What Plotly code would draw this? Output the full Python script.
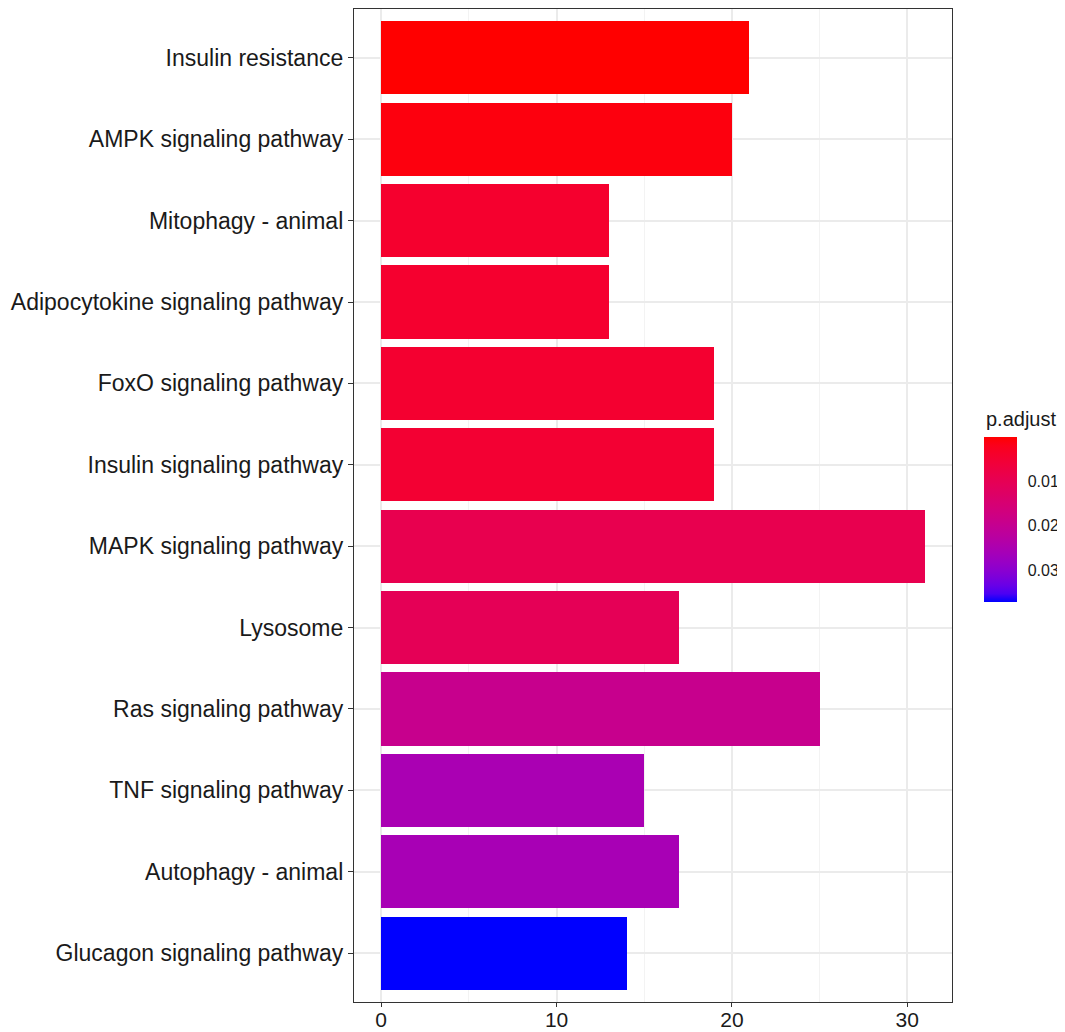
import plotly.graph_objects as go

# KEGG enrichment result (top to bottom)
pathways = [
    "Insulin resistance",
    "AMPK signaling pathway",
    "Mitophagy - animal",
    "Adipocytokine signaling pathway",
    "FoxO signaling pathway",
    "Insulin signaling pathway",
    "MAPK signaling pathway",
    "Lysosome",
    "Ras signaling pathway",
    "TNF signaling pathway",
    "Autophagy - animal",
    "Glucagon signaling pathway",
]
gene_count = [21, 20, 13, 13, 19, 19, 31, 17, 25, 15, 17, 14]
p_adjust = [0.0002, 0.0012, 0.0045, 0.0046, 0.0048, 0.0052,
            0.0093, 0.0105, 0.0195, 0.0255, 0.0258, 0.0373]
cbar_ticks = [0.01, 0.02, 0.03]


# ggplot interpolates gradients in Lab space, so do the same here
def _to_lab(rgb):
    lin = []
    for c in rgb:
        c = c / 255
        lin.append(c / 12.92 if c <= 0.04045 else ((c + 0.055) / 1.055) ** 2.4)
    r, g, b = lin
    x = (0.4124 * r + 0.3576 * g + 0.1805 * b) / 0.95047
    y = (0.2126 * r + 0.7152 * g + 0.0722 * b) / 1.0
    z = (0.0193 * r + 0.1192 * g + 0.9505 * b) / 1.08883
    f = lambda t: t ** (1 / 3) if t > 0.008856 else 7.787 * t + 16 / 116
    fx, fy, fz = f(x), f(y), f(z)
    return (116 * fy - 16, 500 * (fx - fy), 200 * (fy - fz))


def _from_lab(lab):
    L, a, b = lab
    fy = (L + 16) / 116
    fx = fy + a / 500
    fz = fy - b / 200
    g = lambda t: t ** 3 if t ** 3 > 0.008856 else (t - 16 / 116) / 7.787
    x, y, z = g(fx) * 0.95047, g(fy), g(fz) * 1.08883
    r = 3.2406 * x - 1.5372 * y - 0.4986 * z
    gg = -0.9689 * x + 1.8758 * y + 0.0415 * z
    bb = 0.0557 * x - 0.2040 * y + 1.0570 * z
    out = []
    for c in (r, gg, bb):
        c = 12.92 * c if c <= 0.0031308 else 1.055 * c ** (1 / 2.4) - 0.055
        out.append(int(round(min(max(c, 0), 1) * 255)))
    return "rgb(%d,%d,%d)" % tuple(out)


low, high = _to_lab((0, 0, 255)), _to_lab((255, 0, 0))
n = 20
colorscale = []
for i in range(n + 1):
    t = i / n
    colorscale.append([t, _from_lab(tuple(low[k] + (high[k] - low[k]) * t for k in range(3)))])

font = "Liberation Sans, Arial, Helvetica, sans-serif"

W, H = 1057, 1024
ML, MR, MT, MB = 346, 113, 1, 30
plot_w, plot_h = W - ML - MR, H - MT - MB
cb_x, cb_y, cb_len, cb_thick = 1.0535, 0.4854, 165, 33
cmin, cmax = -max(p_adjust), -min(p_adjust)

# negative p so that small values sit at the top of the colorbar (reverse guide)
fig = go.Figure(go.Bar(
    x=gene_count,
    y=pathways,
    orientation="h",
    width=0.9,
    marker=dict(
        color=[-p for p in p_adjust],
        colorscale=colorscale,
        cmin=cmin,
        cmax=cmax,
        line=dict(width=0),
        showscale=True,
        colorbar=dict(
            x=cb_x, xanchor="left",
            y=cb_y, yanchor="middle",
            lenmode="pixels", len=cb_len,
            thickness=cb_thick,
            xpad=0, ypad=0,
            outlinewidth=0,
            tickvals=[-t for t in cbar_ticks],
            ticktext=["%.2f" % t for t in cbar_ticks],
            ticks="outside", ticklen=8, tickcolor="rgba(0,0,0,0)",
            tickfont=dict(family=font, size=16, color="#1a1a1a"),
        ),
    ),
))

# white tick marks on both edges of the colour bar, like ggplot's guide
cb_bot = cb_y - cb_len / 2 / plot_h
cb_top = cb_y + cb_len / 2 / plot_h
x_left = cb_x
x_right = cb_x + cb_thick / plot_w
tk = 6 / plot_w
for t in cbar_ticks:
    yy = cb_bot + (-t - cmin) / (cmax - cmin) * (cb_top - cb_bot)
    for x0, x1 in ((x_left, x_left + tk), (x_right - tk, x_right)):
        fig.add_shape(type="line", xref="paper", yref="paper",
                      x0=x0, x1=x1, y0=yy, y1=yy,
                      line=dict(color="rgba(255,255,255,0.8)", width=1))

fig.add_annotation(
    text="p.adjust", xref="paper", yref="paper",
    x=1.054, y=0.5875, xanchor="left", yanchor="middle",
    showarrow=False, font=dict(family=font, size=20, color="#1a1a1a"),
)

# page body adds 8px, so the figure is sized to the visible area
fig.update_layout(
    width=W, height=H,
    margin=dict(l=ML, r=MR, t=MT, b=MB),
    plot_bgcolor="white", paper_bgcolor="white",
    showlegend=False,
    bargap=0,
)
fig.update_xaxes(
    range=[-1.55, 32.55], dtick=10, tick0=0,
    showgrid=True, gridcolor="#EBEBEB", gridwidth=1.5,
    minor=dict(dtick=5, showgrid=True, gridcolor="#F3F3F3", gridwidth=0.8),
    showline=True, linecolor="#333333", linewidth=1.3, mirror=True,
    ticks="outside", ticklen=4, tickcolor="#333333",
    ticklabelstandoff=-5,
    tickfont=dict(family=font, size=21, color="#1a1a1a"),
    zeroline=False, automargin=False,
)
fig.update_yaxes(
    categoryorder="array", categoryarray=pathways,
    range=[11.6, -0.6],
    showgrid=True, gridcolor="#EBEBEB", gridwidth=1.5,
    showline=True, linecolor="#333333", linewidth=1.3, mirror=True,
    ticks="outside", ticklen=5, tickcolor="#333333",
    tickfont=dict(family=font, size=23, color="#1a1a1a"),
    automargin=False,
)

fig.write_html("out.html")
